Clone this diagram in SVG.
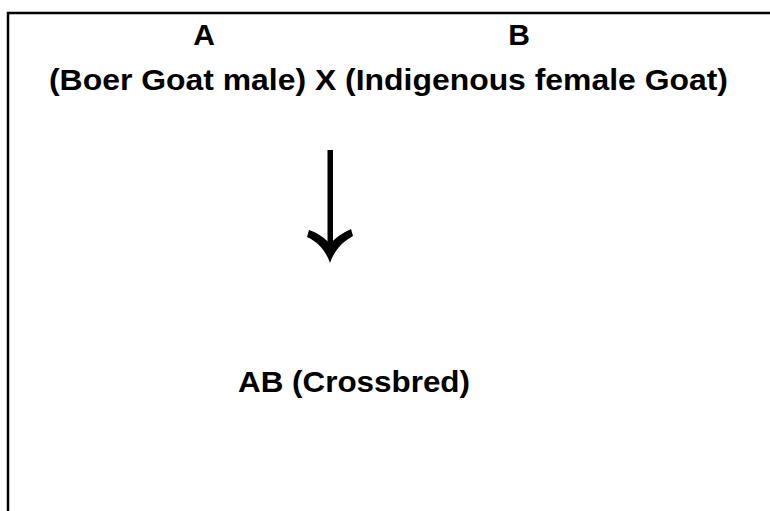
<svg xmlns="http://www.w3.org/2000/svg" width="770" height="511" viewBox="0 0 770 511">
<style>
.t{font-family:"Liberation Sans",Arial,sans-serif;font-weight:bold;font-size:30px;fill:#000;text-anchor:middle}
.frame{fill:none;stroke:#000;stroke-width:2.5}
</style>
<rect width="770" height="511" fill="#fff"/>
<path class="frame" d="M8,511 V13 H770"/>
<g id="parentA"><text class="t" x="204" y="45">A</text></g>
<g id="parentB"><text class="t" x="519" y="45">B</text></g>
<g id="cross"><text class="t" x="388.5" y="90" textLength="679" lengthAdjust="spacingAndGlyphs">(Boer Goat male) X (Indigenous female Goat)</text></g>
<g id="connectors">
<rect x="327.5" y="150" width="5.5" height="100" fill="#000"/>
<path d="M330,263 C326,251 318,242 307,237 L309,230 C318,233 325,238 330,244 C335,238 342,233 351,229 L353,236 C342,242 334,251 330,263 Z" fill="#000"/>
</g>
<g id="offspring"><text class="t" x="354" y="392" textLength="232" lengthAdjust="spacingAndGlyphs">AB (Crossbred)</text></g>
</svg>
